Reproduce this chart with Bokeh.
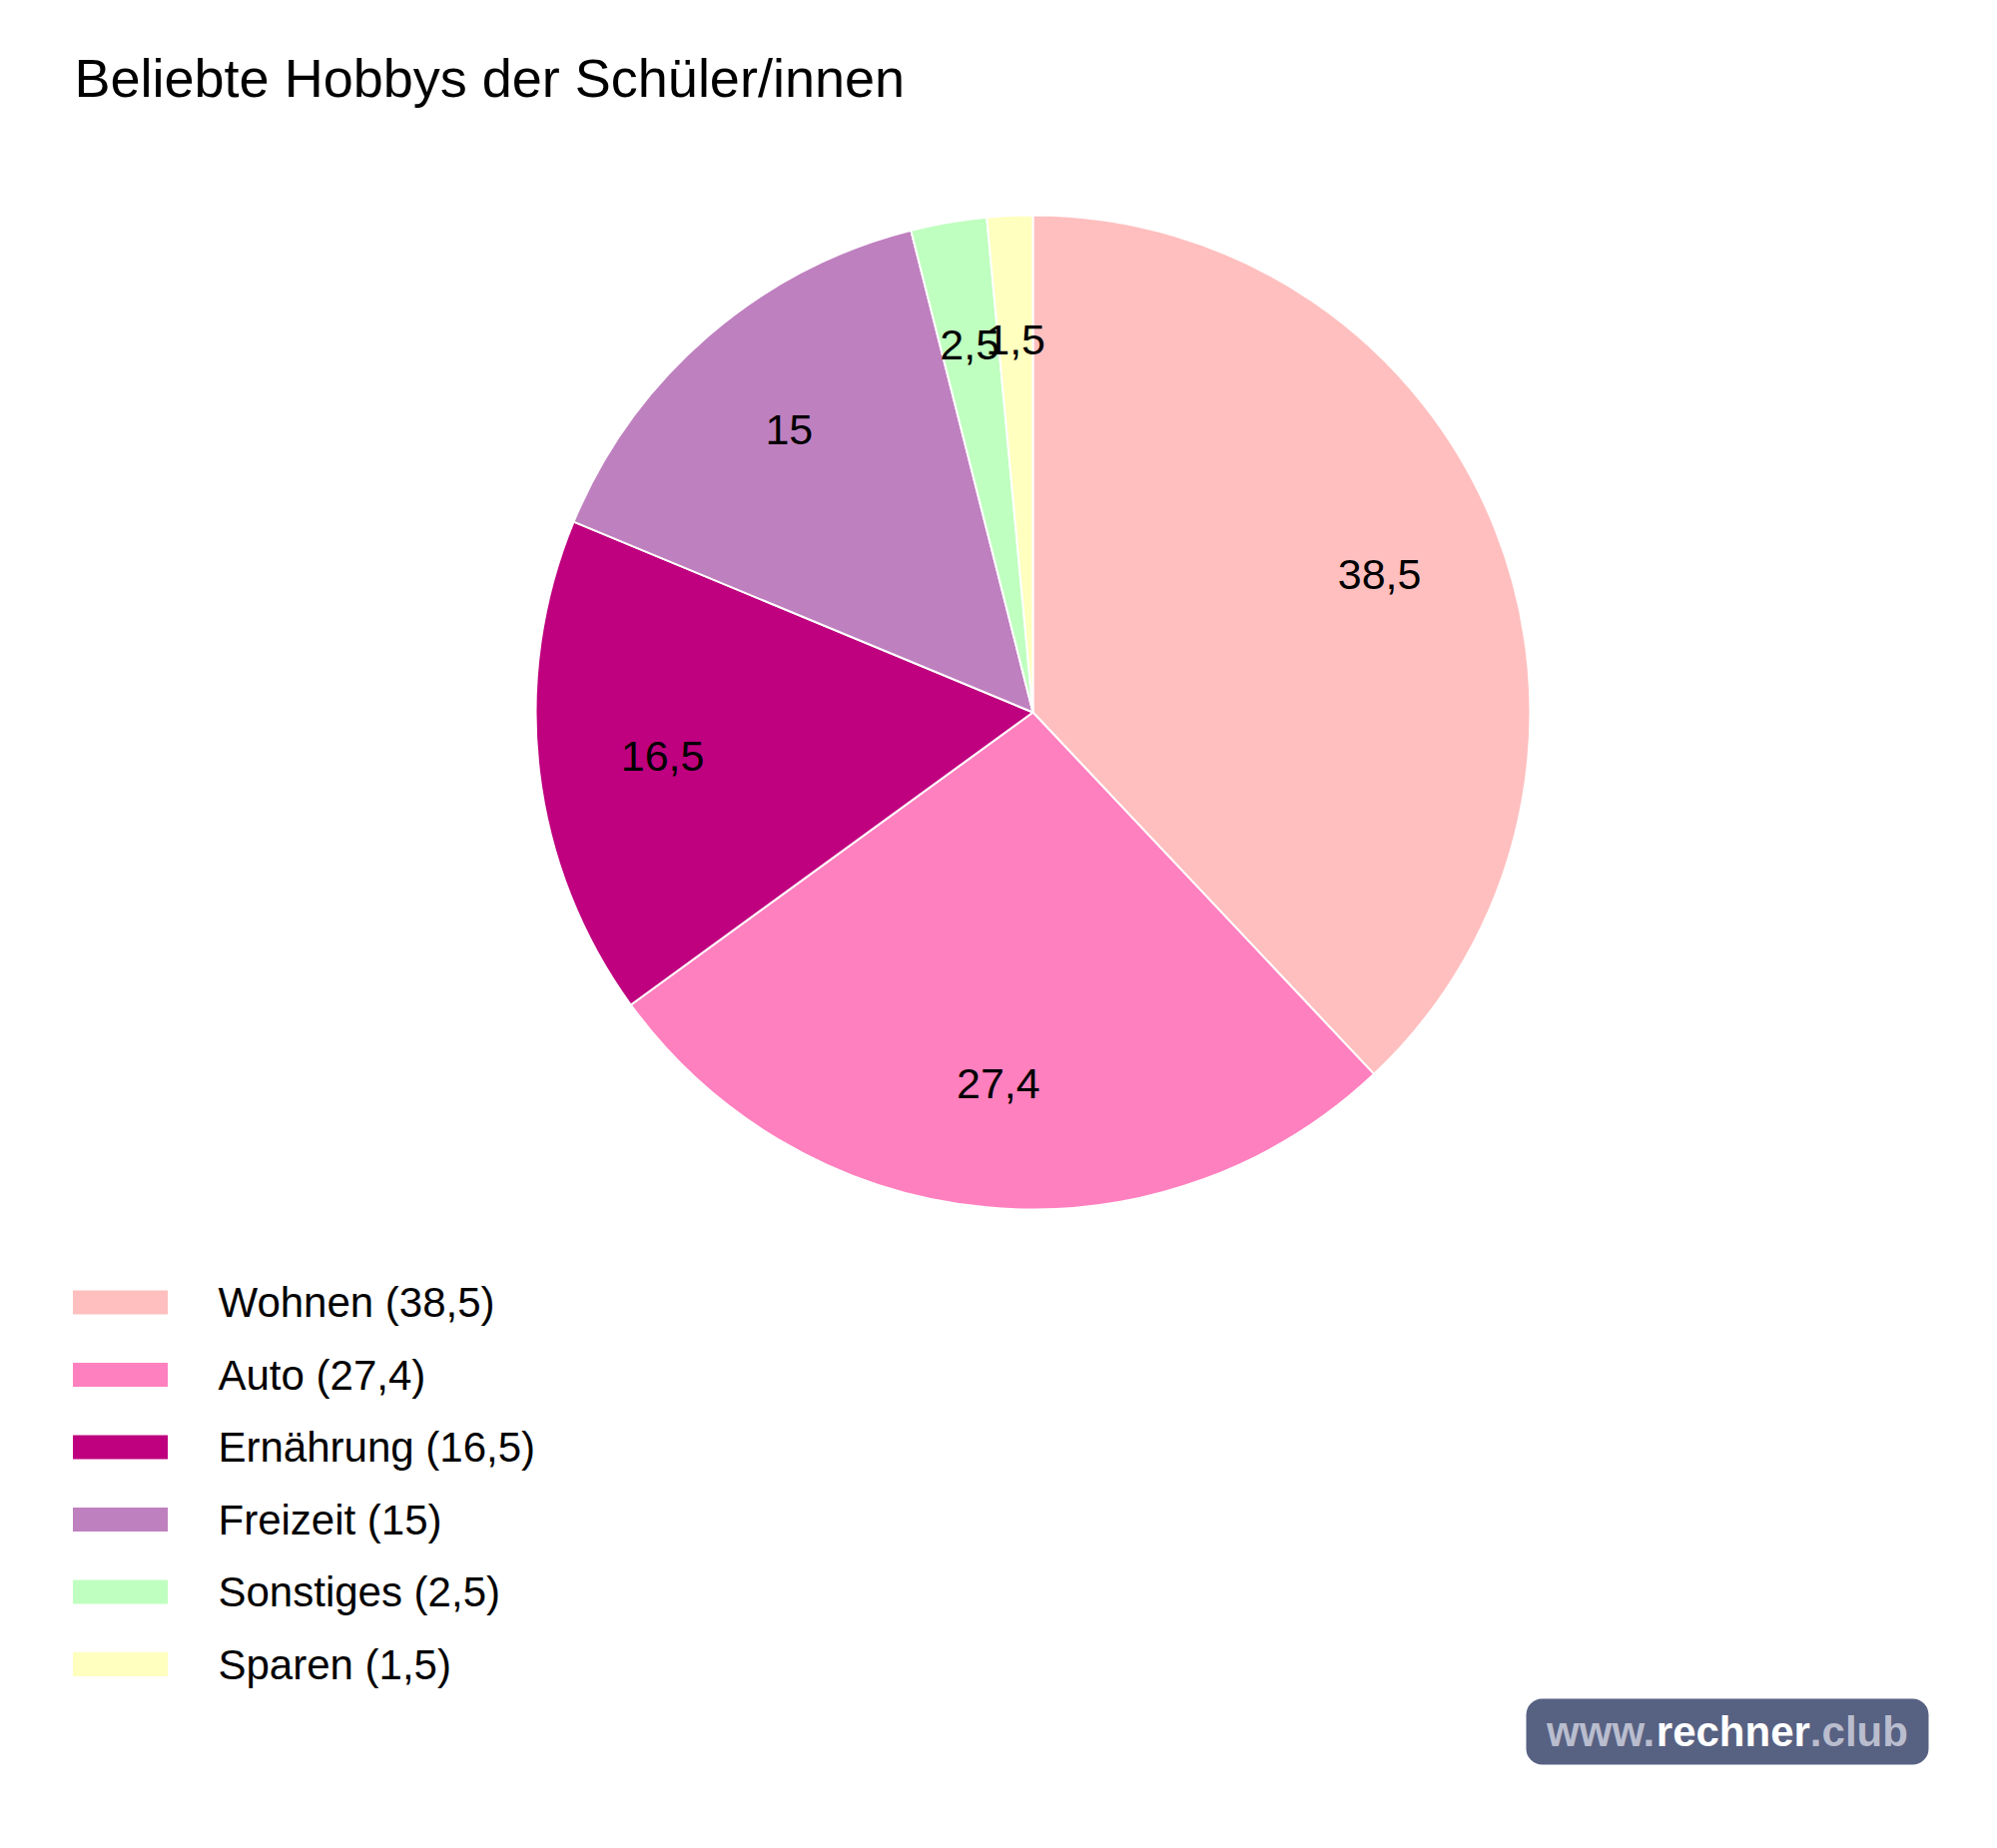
import math
from bokeh.plotting import figure
from bokeh.models import Range1d, BoxAnnotation, ColumnDataSource
from bokeh.core.properties import value
from bokeh.embed import file_html
from bokeh.resources import INLINE

# ---- data ----
categories = ["Wohnen", "Auto", "Ernährung", "Freizeit", "Sonstiges", "Sparen"]
values = [38.5, 27.4, 16.5, 15, 2.5, 1.5]
value_labels = ["38,5", "27,4", "16,5", "15", "2,5", "1,5"]
colors = ["#FFBFBF", "#FF80BF", "#BF007F", "#BF80BF", "#BFFFBF", "#FFFFBF"]
title_text = "Beliebte Hobbys der Schüler/innen"

W, H = 2000, 1851
FONT = "Liberation Sans"

p = figure(width=W, height=H, x_range=Range1d(0, W), y_range=Range1d(0, H),
           output_backend="svg", toolbar_location=None, min_border=0,
           x_axis_type=None, y_axis_type=None)
p.grid.visible = False
p.outline_line_color = None
p.background_fill_color = "white"
p.border_fill_color = "white"

# ---- pie ----
cx, cy, r = 1034, H - 713, 498
total = sum(values)
starts, ends, lx, ly = [], [], [], []
cum = 0.0
for v in values:
    a0 = cum / total * 2 * math.pi
    a1 = (cum + v) / total * 2 * math.pi
    starts.append(math.pi / 2 - a1)
    ends.append(math.pi / 2 - a0)
    mid = (a0 + a1) / 2
    lx.append(cx + 0.75 * r * math.sin(mid))
    ly.append(cy + 0.75 * r * math.cos(mid))
    cum += v

src = ColumnDataSource(dict(start=starts, end=ends, color=colors, lx=lx, ly=ly, lab=value_labels))
p.wedge(x=cx, y=cy, radius=r, start_angle="start", end_angle="end",
        fill_color="color", line_color="white", line_width=2, source=src)
p.text(x="lx", y="ly", text="lab", source=src, text_align="center", text_baseline="middle",
       text_font=value(FONT), text_font_size=value("43px"), text_color="black")

# ---- title ----
p.text(x=[74], y=[H - 77], text=[title_text], text_align="left", text_baseline="middle",
       text_font=value(FONT), text_font_size=value("54px"), text_color="black")

# ---- legend ----
leg_y0, leg_step = 1304, 72.5
leg_y = [H - (leg_y0 + i * leg_step) for i in range(len(categories))]
leg_text = [f"{c} ({l})" for c, l in zip(categories, value_labels)]
lsrc = ColumnDataSource(dict(y=leg_y, color=colors, t=leg_text))
p.rect(x=120, y="y", width=95, height=24, fill_color="color", line_color=None, source=lsrc)
p.text(x=218, y="y", text="t", source=lsrc, text_align="left", text_baseline="middle",
       text_font=value(FONT), text_font_size=value("42px"), text_color="black")

# ---- watermark ----
p.add_layout(BoxAnnotation(left=1528, right=1931, bottom=H - 1767, top=H - 1701,
                           fill_color="#576182", fill_alpha=1, line_color=None,
                           border_radius=16, level="underlay"))
wm_parts = ["www.", "rechner", ".club"]
wm_widths = [2.612, 3.668, 2.334]
wm_cols = ["#B9BDCE", "white", "#B9BDCE"]
fs = 42
tot_w = sum(wm_widths) * fs
x0 = (1528 + 1931) / 2 - tot_w / 2
xs = []
acc = x0
for w in wm_widths:
    xs.append(acc)
    acc += w * fs
p.text(x=xs, y=[H - 1734] * 3, text=wm_parts, text_color=wm_cols, text_align="left",
       text_baseline="middle", text_font=value(FONT), text_font_size=value("42px"),
       text_font_style="bold")

open("out.html", "w").write(file_html(p, INLINE))
